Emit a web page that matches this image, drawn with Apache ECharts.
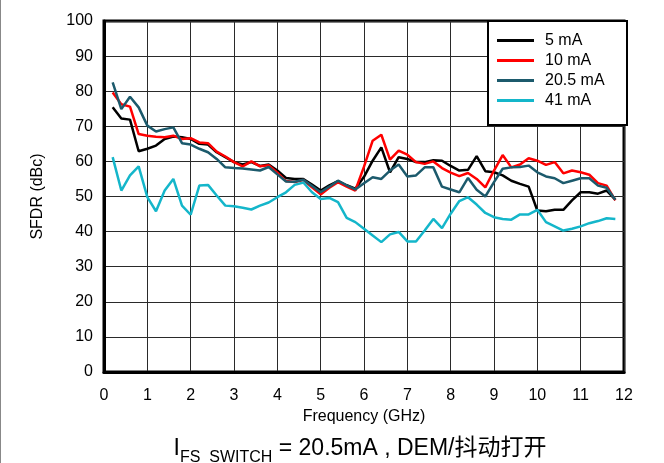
<!DOCTYPE html>
<html>
<head>
<meta charset="utf-8">
<script src="https://cdn.jsdelivr.net/npm/echarts@6/dist/echarts.min.js"></script>
<style>
html,body{margin:0;padding:0;background:#fff;}
#chart{width:664px;height:463px;}
</style>
</head>
<body>
<div id="chart"></div>
<script>
// Frequency (GHz)
var freq = [0.2,0.4,0.6,0.8,1.0,1.2,1.4,1.6,1.8,2.0,2.2,2.4,2.6,2.8,3.0,3.2,3.4,3.6,3.8,4.0,
            4.2,4.4,4.6,4.8,5.0,5.2,5.4,5.6,5.8,6.0,6.2,6.4,6.6,6.8,7.0,7.2,7.4,7.6,7.8,8.0,
            8.2,8.4,8.6,8.8,9.0,9.2,9.4,9.6,9.8,10.0,10.2,10.4,10.6,10.8,11.0,11.2,11.4,11.6,11.8];
var seriesNames = ['5 mA','10 mA','20.5 mA','41 mA'];
var sfdr5 = [75.4,72.2,71.9,62.9,63.6,64.5,66.4,67.1,66.9,66.4,65.0,64.8,62.6,61.2,59.8,59.1,59.8,58.7,59.1,57.4,
             55.3,55.0,55.0,53.4,51.7,53.2,54.4,53.2,52.2,55.6,60.2,64.0,56.9,61.2,60.7,59.8,59.8,60.3,60.2,58.7,
             57.4,57.6,61.5,57.2,56.9,56.0,54.5,53.6,52.8,46.0,45.8,46.2,46.2,48.9,51.2,51.2,50.8,51.7,49.1];
var sfdr10 = [79.6,76.3,75.6,67.8,67.3,67.0,66.9,67.3,66.4,66.6,65.4,65.2,62.8,61.4,59.8,58.6,60.0,58.6,58.9,56.8,
              54.4,54.1,54.7,52.6,50.6,52.5,54.1,52.8,51.7,58.5,65.9,67.6,60.5,63.1,61.9,59.8,59.3,60.0,58.1,56.8,
              55.8,56.7,55.0,52.6,57.4,61.8,58.3,59.1,60.9,60.2,59.0,59.8,56.6,57.4,56.9,56.2,53.8,53.1,48.9];
var sfdr20 = [82.5,74.9,78.4,75.4,70.2,68.5,69.2,69.7,65.2,64.8,63.6,62.6,60.7,58.3,58.1,58.0,57.7,57.4,58.4,56.3,
              54.3,54.2,54.8,53.0,51.2,52.8,54.5,53.2,52.0,53.8,55.5,55.0,57.4,59.1,55.7,56.0,58.3,58.3,52.8,52.0,
              51.2,55.3,51.9,50.0,54.1,57.9,58.3,58.4,58.8,56.9,55.7,55.2,53.8,54.5,55.2,55.2,53.1,52.5,49.1];
var sfdr41 = [61.2,51.7,56.0,58.6,49.8,45.8,51.7,55.0,47.4,44.8,53.1,53.3,50.3,47.4,47.2,46.8,46.3,47.4,48.3,49.8,
              51.2,53.3,54.0,51.2,49.3,49.6,48.4,43.9,42.7,40.8,38.9,37.0,39.2,39.9,37.2,37.2,40.3,43.6,41.0,45.1,
              48.7,49.8,47.7,45.3,44.1,43.6,43.4,44.9,44.9,46.2,42.7,41.5,40.3,40.8,41.5,42.4,43.0,43.8,43.6];
var colors = ['#000000','#ff0000','#1c5a6c','#14b6ca'];
var xTicks = [0,1,2,3,4,5,6,7,8,9,10,11,12];
var yTicks = [0,10,20,30,40,50,60,70,80,90,100];

function pairs(vals){ return freq.map(function(f,i){ return [f, vals[i]]; }); }
var allVals = [sfdr5, sfdr10, sfdr20, sfdr41];

var FONT = '"Liberation Sans", Arial, sans-serif';
var chart = echarts.init(document.getElementById('chart'), null, {renderer:'canvas'});
chart.setOption({
  animation: false,
  backgroundColor: '#ffffff',
  grid: {left:104, right:40, top:21, bottom:91, show:true, borderColor:'#000', borderWidth:3, backgroundColor:'transparent'},
  xAxis: {
    type:'value', min:xTicks[0], max:xTicks[xTicks.length-1], interval:1,
    name:'Frequency (GHz)', nameLocation:'middle', nameGap:34,
    nameTextStyle:{fontFamily:FONT, fontSize:16, color:'#000'},
    axisLine:{show:true, lineStyle:{color:'#000', width:3}},
    axisTick:{show:false},
    axisLabel:{fontFamily:FONT, fontSize:16, color:'#000', margin:16},
    splitLine:{show:true, lineStyle:{color:'#2a2a2a', width:1}}
  },
  yAxis: {
    type:'value', min:yTicks[0], max:yTicks[yTicks.length-1], interval:10,
    name:'SFDR (dBc)', nameLocation:'middle', nameGap:58, nameRotate:90,
    nameTextStyle:{fontFamily:FONT, fontSize:16, color:'#000'},
    axisLine:{show:true, lineStyle:{color:'#000', width:3}},
    axisTick:{show:false},
    axisLabel:{fontFamily:FONT, fontSize:16, color:'#000', margin:11},
    splitLine:{show:true, lineStyle:{color:'#2a2a2a', width:1}}
  },
  legend: {
    orient:'vertical', left:497, top:30, padding:0, itemGap:-1, z:80,
    icon:'rect', itemWidth:37, itemHeight:3,
    textStyle:{fontFamily:FONT, fontSize:16, color:'#000', lineHeight:21, padding:[0,0,0,6]},
    data: seriesNames
  },
  graphic: [
    {type:'rect', left:487, top:20, z:50, shape:{width:139, height:104},
     style:{fill:'#fff', stroke:'#000', lineWidth:2}},
    {type:'line', shape:{x1:0.5,y1:0,x2:0.5,y2:463}, style:{stroke:'#888', lineWidth:1}},
    {type:'text', x:360, y:447, z:100,
     style:{
       text:'{a|I}{s|FS  SWITCH}{a| = 20.5mA , DEM/抖动打开}',
       align:'center', verticalAlign:'middle',
       rich:{
         a:{fontFamily:'"Liberation Sans", "Noto Sans CJK SC", sans-serif', fontSize:23, fill:'#000', lineHeight:26, verticalAlign:'bottom'},
         s:{fontFamily:'"Liberation Sans", sans-serif', fontSize:16, fill:'#000', lineHeight:26, verticalAlign:'bottom', padding:[0,0,-6,0]}
       }
     }}
  ],
  series: seriesNames.map(function(n,i){
    return {
      name:n, type:'line', data:pairs(allVals[i]), showSymbol:false, symbol:'none',
      lineStyle:{color:colors[i], width:2.5}, itemStyle:{color:colors[i]}, z:2+i
    };
  })
});
</script>
</body>
</html>
